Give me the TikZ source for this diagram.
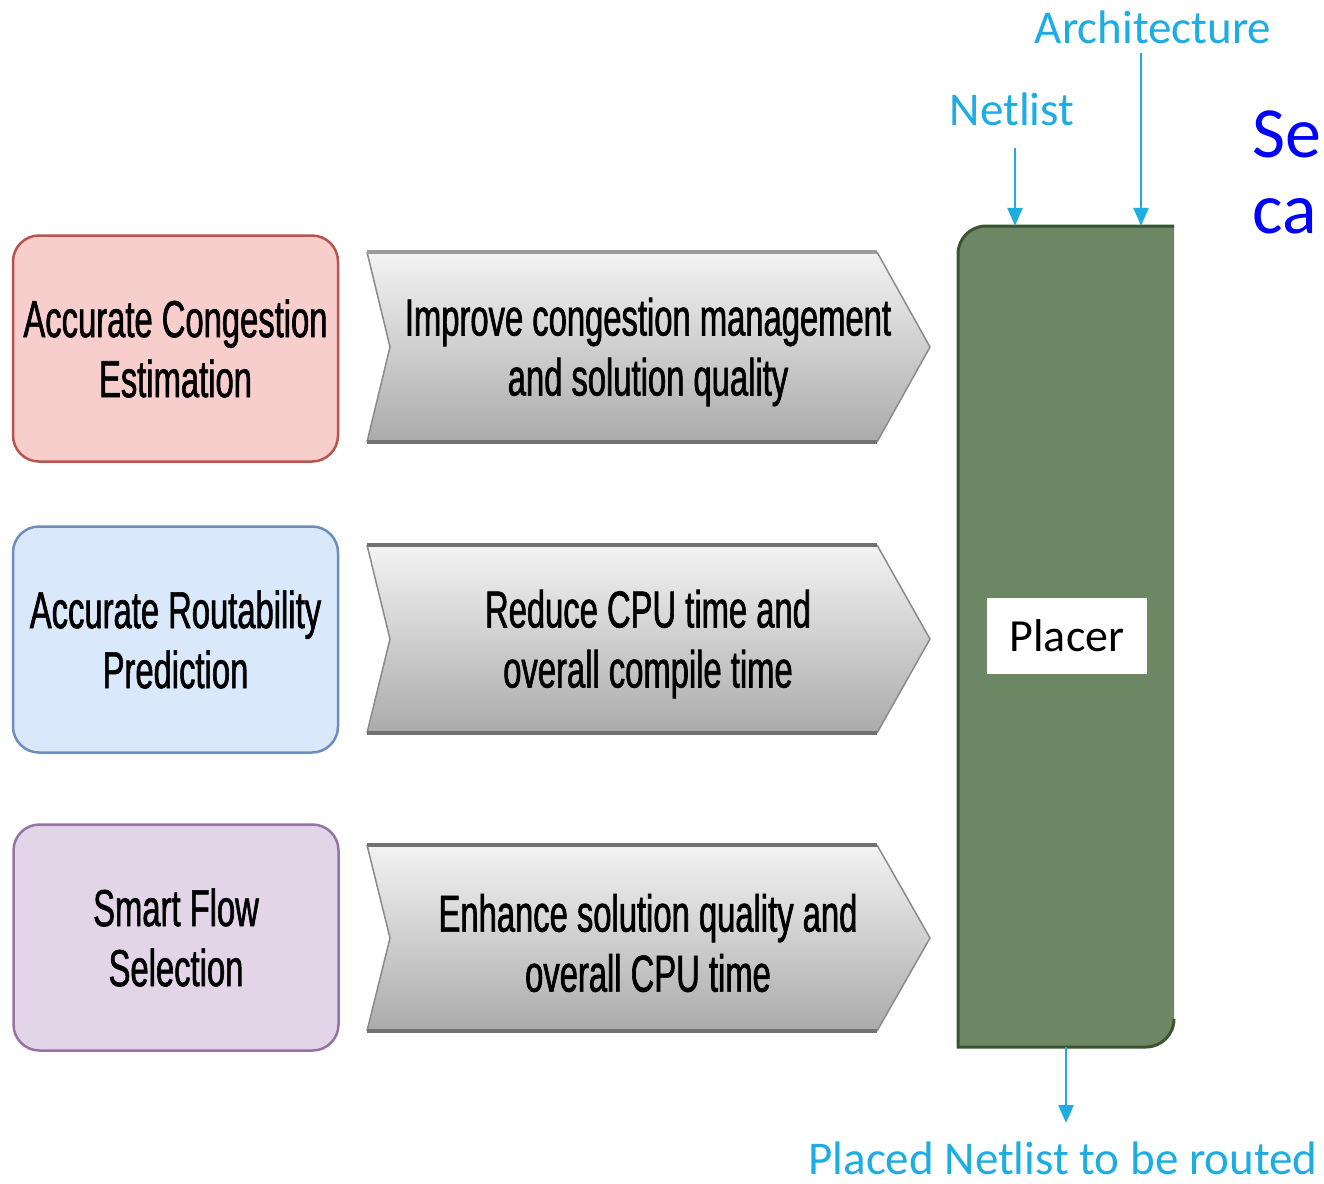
\documentclass[tikz,border=0pt]{standalone}
\usepackage{fontspec}
\setmainfont{Carlito}
\newfontfamily\narrowfont[FakeStretch=0.63,FakeBold=1.2]{Liberation Sans}
\usetikzlibrary{arrows.meta}

\definecolor{pinkfill}{HTML}{F8CECC}
\definecolor{pinkline}{HTML}{B85450}
\definecolor{bluefill}{HTML}{DAE8FC}
\definecolor{blueline}{HTML}{6C8EBF}
\definecolor{purplefill}{HTML}{E1D5E7}
\definecolor{purpleline}{HTML}{9673A6}
\definecolor{placerfill}{HTML}{6D8764}
\definecolor{placerline}{HTML}{3A5431}
\definecolor{flowcyan}{HTML}{1DADE3}
\definecolor{chevtop}{HTML}{F3F3F3}
\definecolor{chevbottom}{HTML}{ABABAB}
\definecolor{chevside}{HTML}{8A8A8A}
\definecolor{chevedge}{HTML}{727272}

\tikzset{
  goalbox/.style={rectangle, rounded corners=26pt, line width=2.5pt,
    minimum width=325pt, minimum height=226pt, align=center,
    font=\narrowfont\fontsize{52}{60}\selectfont},
  chevtext/.style={align=center, inner sep=0pt,
    font=\narrowfont\fontsize{52}{60}\selectfont},
  chevshade/.style={top color=chevtop, bottom color=chevbottom, draw=none},
  chevsides/.style={draw=chevside, line width=1.5pt},
  chevrim/.style={draw=chevedge, line width=4pt},
  cyanlabel/.style={text=flowcyan, inner sep=0pt, anchor=base,
    text depth=0pt, font=\fontsize{47}{50}\selectfont},
  flow/.style={draw=flowcyan, line width=2.5pt,
    -{Triangle[width=15pt,length=18pt]}},
}

% chevron: top rim colour, top y, bottom y, middle y
\newcommand\chevronshape[4]{%
  \path[chevshade] (367,#2) -- (877,#2) -- (930,#4) -- (877,#3)
      -- (367,#3) -- (390,#4) -- cycle;
  \draw[chevsides] (367,#2) -- (390,#4) -- (367,#3);
  \draw[chevsides] (877,#2) -- (930,#4) -- (877,#3);
  \draw[chevrim,draw=#1] (367,#2) -- (877,#2);
  \draw[chevrim] (367,#3) -- (877,#3);
}

\begin{document}
\begin{tikzpicture}[x=1pt,y=-1pt]
  \useasboundingbox (0,0) rectangle (1324,1183);
  \clip (0,0) rectangle (1324,1183);
  \fill[white] (0,0) rectangle (1324,1183);

  % goals on the left
  \node[goalbox, draw=pinkline, fill=pinkfill] (goal1) at (175.5,348.5)
    {Accurate Congestion\\Estimation};
  \node[goalbox, draw=blueline, fill=bluefill] (goal2) at (175.5,639.5)
    {Accurate Routability\\Prediction};
  \node[goalbox, draw=purpleline, fill=purplefill] (goal3) at (176,937.5)
    {Smart Flow\\Selection};

  % benefit chevrons
  \chevronshape{chevedge!70}{252}{442}{347}
  \chevronshape{chevedge}{545}{733}{639}
  \chevronshape{chevedge}{845}{1031}{938}
  \node[chevtext] (gain1) at (648,352)
    {Improve congestion management\\and solution quality};
  \node[chevtext] (gain2) at (648,644)
    {Reduce CPU time and\\overall compile time};
  \node[chevtext] (gain3) at (648,943)
    {Enhance solution quality and\\overall CPU time};

  % placer block
  \node[minimum width=216pt, minimum height=821pt, inner sep=0pt]
    (body) at (1066,636.5) {};
  \fill[placerfill] (1174,226) -- (986,226)
    arc[start angle=-90, end angle=-180, radius=28] -- (958,1047)
    -- (1146,1047) arc[start angle=90, end angle=0, radius=28] -- cycle;
  \draw[placerline, line width=3pt] (1174,226) -- (986,226)
    arc[start angle=-90, end angle=-180, radius=28] -- (958,1047)
    -- (1146,1047) arc[start angle=90, end angle=0, radius=28];
  \node[fill=white, minimum width=160pt, minimum height=76pt, inner sep=0pt,
    font=\fontsize{46}{50}\selectfont] (placer) at (1067,636) {Placer};

  % inputs and output
  \node[cyanlabel] (netlist) at (1012,125) {Netlist};
  \node[cyanlabel] (arch) at (1153,43) {Architecture};
  \node[cyanlabel] (placed) at (1063,1174) {Placed Netlist to be routed};
  \coordinate (nlsrc) at (1015,148);
  \coordinate (archsrc) at (1141,53);
  \coordinate (outend) at (1066,1123);
  \draw[flow] (nlsrc) -- (nlsrc |- body.north);
  \draw[flow] (archsrc) -- (archsrc |- body.north);
  \draw[flow] (outend |- body.south) -- (outend);

  % side text running off the right edge
  \node[text=blue, anchor=base west, inner sep=0pt, align=left,
    font=\fontsize{72}{76}\selectfont] (side) at (1252,233) {Se\\ca};
\end{tikzpicture}
\end{document}
